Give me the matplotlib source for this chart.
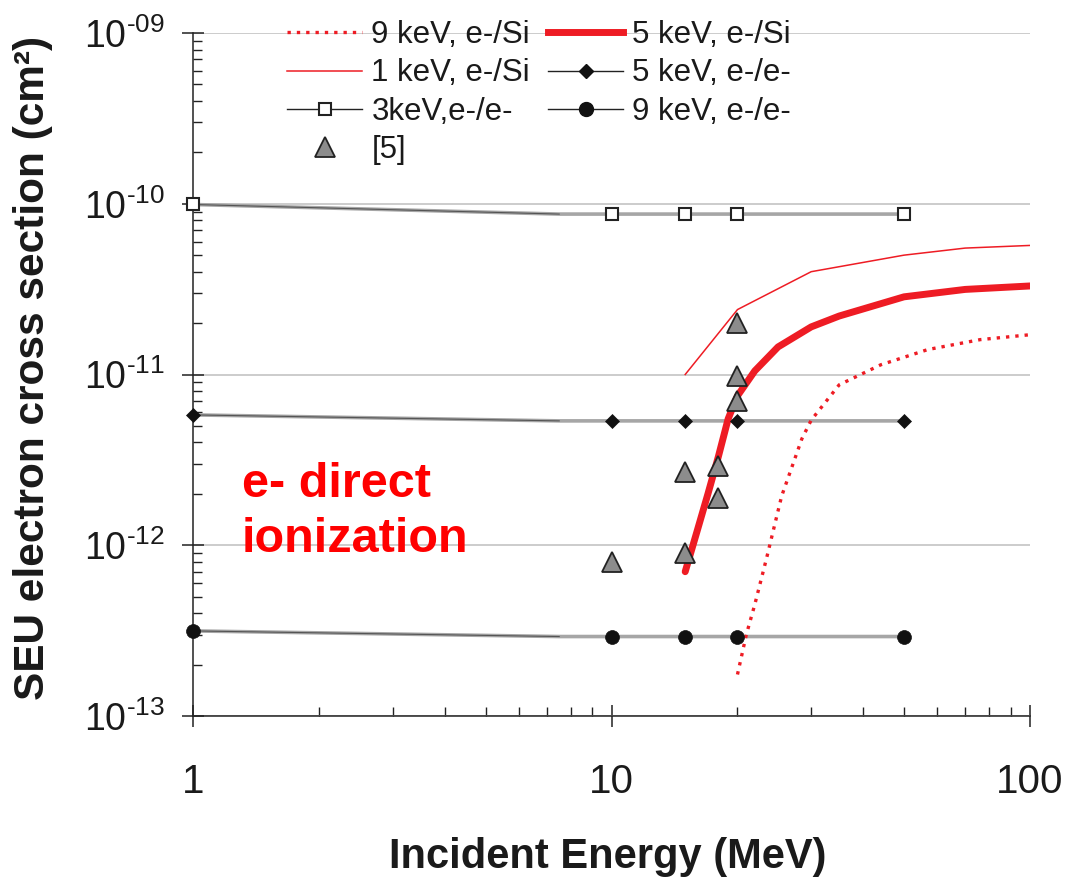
import matplotlib
matplotlib.use("Agg")
import matplotlib.pyplot as plt
from matplotlib.lines import Line2D
from matplotlib.ticker import LogLocator, FuncFormatter, NullFormatter, FixedLocator
import numpy as np

plt.rcParams['font.family'] = ['Liberation Sans', 'DejaVu Sans']
plt.rcParams['mathtext.fontset'] = 'custom'
plt.rcParams['mathtext.rm'] = 'Liberation Sans'

# ---- data ----
# e-/e- curves (line points); markers at indices 0,2,3,4,5
E_ee = [1, 7.5, 10, 15, 20, 50]
ee_3keV = [9.9e-11, 8.7e-11, 8.7e-11, 8.7e-11, 8.7e-11, 8.7e-11]
ee_5keV = [5.8e-12, 5.35e-12, 5.35e-12, 5.35e-12, 5.35e-12, 5.35e-12]
ee_9keV = [3.15e-13, 2.92e-13, 2.92e-13, 2.92e-13, 2.92e-13, 2.92e-13]
ee_marker_idx = [0, 2, 3, 4, 5]

# e-/Si curves
E_si1 = [15, 20, 30, 50, 70, 100]
si_1keV = [1.0e-11, 2.4e-11, 4.0e-11, 5.0e-11, 5.5e-11, 5.7e-11]

E_si5 = [15, 16, 17, 18, 19, 20, 22, 25, 30, 35, 50, 70, 100]
si_5keV = [7.0e-13, 1.2e-12, 2.0e-12, 3.3e-12, 5.5e-12, 7.5e-12, 1.05e-11,
           1.45e-11, 1.9e-11, 2.2e-11, 2.85e-11, 3.15e-11, 3.3e-11]

E_si9 = [20, 21, 22, 23.5, 25.5, 28.5, 30, 35, 44, 57, 76, 100]
si_9keV = [1.75e-13, 3.0e-13, 4.5e-13, 8.5e-13, 1.94e-12, 4.2e-12, 5.4e-12,
           8.7e-12, 1.14e-11, 1.4e-11, 1.6e-11, 1.71e-11]

# reference [5] measurements
E_ref = [10, 15, 15, 18, 18, 20, 20, 20]
xs_ref = [8.0e-13, 9.0e-13, 2.7e-12, 2.9e-12, 1.9e-12, 2.0e-11, 9.8e-12, 7.0e-12]

RED = '#ee1c24'
GRAY = '#a6a6a6'

fig = plt.figure(figsize=(10.66, 8.81), dpi=100)
ax = fig.add_axes([193/1066, 1-716/881, (1030-193)/1066, (716-33)/881])
ax.set_xscale('log')
ax.set_yscale('log')
ax.set_xlim(1, 100)
ax.set_ylim(1e-13, 1e-9)

ax.yaxis.grid(True, which='major', color='#c8c8c8', lw=1.3, zorder=0)
ax.set_axisbelow(True)

# e-/e- series
ms = {'3': dict(marker='s', ms=9, mfc='white', mec='#222222', mew=1.5),
      '5': dict(marker='D', ms=7, mfc='#111111', mec='#111111', mew=0.5),
      '9': dict(marker='o', ms=10, mfc='#111111', mec='#111111', mew=0.5)}
for key, ys in (('3', ee_3keV), ('5', ee_5keV), ('9', ee_9keV)):
    ax.plot(E_ee, ys, color=GRAY, lw=2.6, zorder=2, clip_on=False)
    ax.plot(E_ee[:2], ys[:2], color='#555555', lw=0.8, zorder=2.5, clip_on=False)
    ax.plot([E_ee[i] for i in ee_marker_idx], [ys[i] for i in ee_marker_idx],
            ls='none', zorder=4, clip_on=False, **ms[key])

# e-/Si series
ax.plot(E_si9, si_9keV, color=RED, lw=2.4, ls=(0, (1, 1.8)), zorder=3)
ax.plot(E_si1, si_1keV, color=RED, lw=1.1, zorder=3)
ax.plot(E_si5, si_5keV, color=RED, lw=5, solid_capstyle='round', zorder=3)

# [5] data
ax.plot(E_ref, xs_ref, ls='none', marker='^', ms=15, mfc='#8c8c8c',
        mec='#222222', mew=1.3, zorder=5)

# spines / ticks
for s in ('top', 'right'):
    ax.spines[s].set_visible(False)
for s in ('left', 'bottom'):
    ax.spines[s].set_linewidth(1.1)
    ax.spines[s].set_color('#222222')

ax.xaxis.set_major_locator(FixedLocator([1, 10, 100]))
ax.xaxis.set_minor_locator(LogLocator(base=10, subs=np.arange(2, 10), numticks=20))
ax.yaxis.set_major_locator(LogLocator(base=10, numticks=20))
ax.yaxis.set_minor_locator(LogLocator(base=10, subs=np.arange(2, 10), numticks=20))
ax.xaxis.set_minor_formatter(NullFormatter())
ax.yaxis.set_minor_formatter(NullFormatter())
ax.xaxis.set_major_formatter(FuncFormatter(lambda v, p: f"{v:g}"))
ax.yaxis.set_major_formatter(FuncFormatter(
    lambda v, p: r"$\mathregular{10^{\text{-%02d}}}$" % int(round(-np.log10(v)))))

ax.tick_params(which='major', direction='inout', length=16, width=1.1,
               color='#222222')
ax.tick_params(which='minor', direction='in', length=6.5, width=1.0,
               color='#222222')
ax.tick_params(axis='x', which='major', labelsize=29, pad=26, labelcolor='#1a1a1a')
ax.tick_params(axis='y', which='major', labelsize=27, pad=12, labelcolor='#1a1a1a')

# hide unused axis label / offset text artists
ax.xaxis.label.set_visible(False)
ax.yaxis.label.set_visible(False)
ax.xaxis.get_offset_text().set_visible(False)
ax.yaxis.get_offset_text().set_visible(False)

# axis labels
fig.text(608/1066, 1-868/881, 'Incident Energy (MeV)', fontsize=30,
         fontweight='bold', ha='center', va='baseline', color='#1a1a1a')
fig.text(33/1066, 1-368/881, 'SEU electron cross section (cm²)', fontsize=30.5,
         fontweight='bold', ha='center', va='center', rotation=90,
         color='#1a1a1a')

# annotation
fig.text(242/1066, 1-497/881, 'e- direct', fontsize=35, fontweight='bold',
         color='#ff0000', ha='left', va='baseline')
fig.text(242/1066, 1-552/881, 'ionization', fontsize=35, fontweight='bold',
         color='#ff0000', ha='left', va='baseline')

# legend
handles = [
    Line2D([], [], color=RED, lw=2.4, ls=(0, (1, 1.8))),
    Line2D([], [], color=RED, lw=1.1),
    Line2D([], [], color='#222222', lw=1.0, marker='s', ms=9, mfc='white',
           mec='#222222', mew=1.5),
    Line2D([], [], ls='none', marker='^', ms=15, mfc='#8c8c8c', mec='#222222',
           mew=1.3),
    Line2D([], [], color=RED, lw=5),
    Line2D([], [], color='#222222', lw=1.0, marker='D', ms=7, mfc='#111111',
           mec='#111111'),
    Line2D([], [], color='#222222', lw=1.0, marker='o', ms=10, mfc='#111111',
           mec='#111111'),
]
labels = ['9 keV, e-/Si', '1 keV, e-/Si', '3keV,e-/e-', '[5]',
          '5 keV, e-/Si', '5 keV, e-/e-', '9 keV, e-/e-']
leg = fig.legend(handles, labels, ncol=2, loc='upper left',
                 bbox_to_anchor=(287/1066, 1-20/881), frameon=False,
                 fontsize=22.5, handlelength=2.4, handletextpad=0.3,
                 columnspacing=0.58, labelspacing=0.27, borderpad=0,
                 borderaxespad=0, numpoints=1)
for t in leg.get_texts():
    t.set_color('#1a1a1a')

fig.savefig('out.png', dpi=100)
